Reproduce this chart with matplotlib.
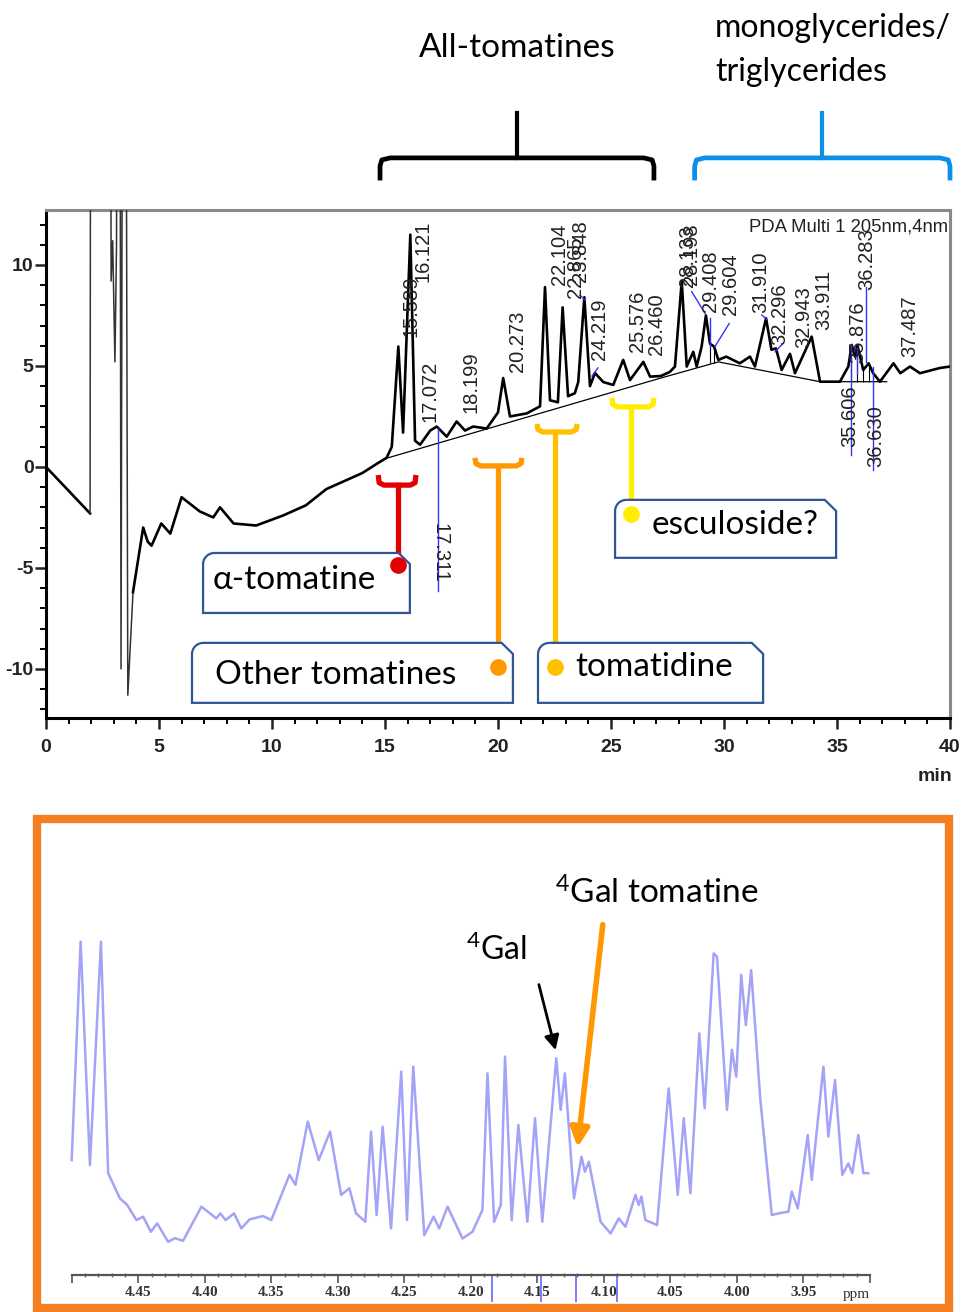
# HPLC-PDA chromatogram of tomato extract (top) and 1H-NMR detail of the 4Gal region (bottom).

import numpy as np
import matplotlib.pyplot as plt
from matplotlib.patches import Polygon, Rectangle

plt.rcParams['font.family'] = ['Liberation Sans', 'DejaVu Sans']
plt.rcParams['mathtext.default'] = 'regular'

# ---- chromatogram trace (min, mAU)
trace_t = [0, 1.95, 1.99, 2.85, 2.88, 2.95, 3.05, 3.12, 3.18, 3.25, 3.32, 3.42, 3.5, 3.62,
           3.85, 4.3, 4.5, 4.67, 5.1, 5.5, 6.0, 6.8, 7.4, 7.7, 8.3, 9.3, 10.5, 11.5, 12.4,
           13.0, 14.0, 14.7, 15.07, 15.3, 15.59, 15.8, 16.12, 16.33, 16.55, 17.0, 17.29,
           17.73, 18.17, 18.54, 18.9, 19.5, 20.0, 20.23, 20.53, 21.27, 21.86, 22.08, 22.3,
           22.65, 22.86, 23.1, 23.4, 23.55, 23.82, 24.07, 24.29, 24.66, 25.1, 25.54, 25.84,
           26.43, 26.73, 27.2, 27.6, 27.83, 28.13, 28.35, 28.64, 28.79, 29.01, 29.2, 29.38,
           29.56, 29.75, 30.1, 30.7, 31.15, 31.37, 31.86, 32.1, 32.3, 32.55, 32.92, 33.14,
           33.88, 34.25, 35.13, 35.5, 35.65, 35.8, 35.9, 36.16, 36.4, 36.6, 36.9, 37.5, 37.8,
           38.23, 38.67, 39.56, 40]
trace_s = [0, -2.3, 40, 40, 9.2, 11.2, 5.2, 11.0, 40, 40, -10.0, 40, 40, -11.3,
           -6.2, -3.0, -3.7, -3.9, -2.8, -3.3, -1.5, -2.2, -2.5, -2.0, -2.8, -2.9, -2.4, -1.9, -1.1,
           -0.8, -0.3, 0.2, 0.45, 1.0, 5.96, 1.7, 11.5, 1.3, 1.1, 1.8, 2.0,
           1.5, 2.25, 1.8, 2.0, 1.9, 2.7, 4.4, 2.5, 2.65, 3.0, 8.9, 3.3,
           3.2, 7.9, 3.5, 3.65, 4.2, 8.4, 4.0, 4.65, 4.2, 4.06, 5.3, 4.3,
           5.2, 4.47, 4.5, 4.7, 4.97, 9.2, 4.97, 5.7, 4.97, 5.96, 7.5, 6.1,
           5.96, 5.3, 5.46, 5.13, 5.46, 4.97, 7.36, 5.8, 5.87, 4.8, 5.6, 4.64,
           6.45, 4.22, 4.22, 4.97, 6.04, 5.46, 6.04, 4.8, 5.13, 4.64, 4.22, 5.13, 4.64,
           4.97, 4.64, 4.9, 4.97]

# integration baseline drawn under the peaks
base_t = [15.07, 27.2, 29.75, 34.25, 37.2]
base_s = [0.43, 4.4, 5.2, 4.22, 4.22]

# peak retention-time labels: text, x, y (bottom of text)
peak_text = ['15.589', '16.121', '17.072', '18.199', '20.273', '22.104', '22.865', '23.848',
             '24.219', '25.576', '26.460', '28.133', '28.198', '29.408', '29.604', '31.910',
             '32.296', '32.943', '33.911', '35.876', '36.283', '37.487', '35.606', '36.630']
peak_x = [16.15, 16.7, 17.0, 18.79, 20.86, 22.7, 23.44, 23.66,
          24.47, 26.16, 27.02, 28.4, 28.58, 29.41, 30.3, 31.62,
          32.48, 33.51, 34.39, 35.9, 36.31, 38.23, 35.58, 36.71]
peak_y = [6.45, 9.17, 2.24, 2.67, 4.72, 9.0, 8.37, 9.16,
          5.3, 5.71, 5.54, 8.9, 9.0, 7.69, 7.52, 7.61,
          6.04, 5.88, 6.78, 5.15, 8.76, 5.46, 0.99, 0.0]

# blue connector segments (x0, y0, x1, y1)
conn_x0 = [17.35, 28.57, 29.38, 30.23, 31.67, 32.55, 35.6, 35.87, 36.28, 36.6, 24.16, 23.63]
conn_y0 = [1.93, 8.68, 7.36, 7.1, 7.52, 6.04, 6.04, 5.9, 8.9, 4.97, 4.5, 8.5]
conn_x1 = [17.35, 29.16, 29.38, 29.6, 31.89, 32.26, 35.6, 35.87, 36.28, 36.6, 24.42, 23.85]
conn_y1 = [-6.14, 7.6, 5.94, 5.96, 7.31, 5.7, 0.59, 4.6, 5.2, -0.15, 4.9, 8.27]

# drop lines at split peaks
drop_x = [29.38, 29.56, 35.62, 35.9, 36.16, 36.4]
drop_lo = [5.15, 5.15, 4.22, 4.22, 4.22, 4.22]
drop_hi = [6.1, 5.96, 6.0, 6.0, 4.8, 5.1]

# compound groups: bracket range, stem end and labelled box
grp_name = ['\u03b1-tomatine', 'Other tomatines', 'tomatidine', 'esculoside?']
grp_color = ['#e30000', '#ff9800', '#ffc000', '#ffee00']
grp_x0 = [14.7, 18.98, 21.73, 25.04]
grp_x1 = [16.37, 21.06, 23.5, 26.9]
grp_top = [-0.4, 0.45, 2.13, 3.42]
grp_bar = [-0.9, 0.05, 1.73, 2.97]
grp_stem = [15.58, 20.0, 22.52, 25.9]
grp_ball = [-4.85, -9.9, -9.9, -2.33]
box_x0 = [6.95, 6.46, 21.77, 25.18]
box_x1 = [16.1, 20.66, 31.73, 34.96]
box_top = [-4.26, -8.71, -8.71, -1.63]
box_bot = [-7.23, -11.68, -11.68, -4.5]
box_tx = [7.39, 7.48, 23.4, 26.8]
box_ty = [-5.6, -10.3, -9.9, -2.87]

# ---- NMR spectrum (ppm, relative intensity)
nmr_ppm = [4.500, 4.4933, 4.4863, 4.478, 4.4726, 4.4638, 4.4583, 4.4513, 4.4463, 4.4405,
           4.4358, 4.4275, 4.4225, 4.4163, 4.4025, 4.3913, 4.3883, 4.3843, 4.378, 4.3725,
           4.3663, 4.3563, 4.35, 4.3363, 4.3318, 4.3226, 4.3143, 4.3058, 4.2975, 4.2913,
           4.2863, 4.2793, 4.275, 4.2708, 4.2663, 4.26, 4.2523, 4.248, 4.2433, 4.235,
           4.228, 4.2238, 4.2175, 4.2063, 4.1988, 4.1913, 4.1875, 4.1825, 4.1775, 4.1743,
           4.1693, 4.1643, 4.1575, 4.1518, 4.1463, 4.1358, 4.1325, 4.1293, 4.1225, 4.1168,
           4.1143, 4.1113, 4.1025, 4.095, 4.0888, 4.0838, 4.0763, 4.0738, 4.0718, 4.0688,
           4.06, 4.0513, 4.0445, 4.04, 4.035, 4.0283, 4.0243, 4.0175, 4.015, 4.0075,
           4.0038, 4.0005, 3.9968, 3.9933, 3.9893, 3.9825, 3.9738, 3.9688, 3.9613, 3.9588,
           3.9543, 3.9468, 3.9438, 3.935, 3.9313, 3.9263, 3.9208, 3.9163, 3.9133, 3.9088,
           3.905, 3.9013]
nmr_int = [34.3, 99.5, 32.8, 99.5, 30.4, 22.9, 20.9, 16.4, 17.4, 12.9,
           15.4, 9.9, 11.0, 10.2, 20.4, 16.9, 18.4, 16.4, 18.4, 13.9,
           16.6, 17.6, 16.4, 29.9, 26.9, 45.8, 34.3, 42.8, 23.9, 25.9,
           18.4, 15.9, 42.8, 17.9, 44.3, 13.9, 60.7, 16.4, 62.2, 11.9,
           17.4, 13.9, 20.4, 10.9, 12.9, 19.4, 60.2, 15.9, 20.9, 65.2,
           16.4, 44.8, 15.9, 46.8, 15.9, 64.7, 49.3, 60.2, 22.9, 35.3,
           30.8, 33.8, 15.9, 12.4, 16.9, 14.4, 23.9, 20.9, 23.4, 16.4,
           14.9, 55.7, 23.9, 46.8, 24.4, 72.1, 49.8, 96.0, 95.0, 49.3,
           67.2, 59.2, 89.6, 74.6, 91.0, 52.7, 17.9, 18.4, 18.9, 24.9,
           19.9, 41.8, 28.4, 62.2, 41.3, 58.2, 29.9, 33.3, 30.4, 41.8,
           30.4, 30.4]
nmr_ticks = [4.50, 4.45, 4.40, 4.35, 4.30, 4.25, 4.20, 4.15, 4.10, 4.05, 4.00, 3.95, 3.90]
nmr_integr = [4.184, 4.1475, 4.121, 4.09]

fig = plt.figure(figsize=(9.65, 13.12), dpi=100)

# ================= chromatogram =================
ax1 = fig.add_axes([46 / 965, 1 - 718 / 1312, 904 / 965, 508 / 1312])
ax1.set_xlim(0, 40)
ax1.set_ylim(-12.43, 12.72)
# solvent-front spikes are drawn thin, the rest of the trace thicker
ax1.plot(trace_t[:2], trace_s[:2], color='black', lw=1.9, zorder=3)
ax1.plot(trace_t[1:15], trace_s[1:15], color='#333333', lw=1.1, zorder=3)
ax1.plot(trace_t[14:], trace_s[14:], color='black', lw=1.9, zorder=3,
         solid_joinstyle='round')
ax1.plot(base_t, base_s, color='black', lw=0.9, zorder=3)
ax1.vlines(drop_x, drop_lo, drop_hi, color='black', lw=0.8, zorder=3)
for x0, y0, x1, y1 in zip(conn_x0, conn_y0, conn_x1, conn_y1):
    ax1.plot([x0, x1], [y0, y1], color='#3333ff', lw=1.0, zorder=4)
for txt, x, y in zip(peak_text, peak_x, peak_y):
    ax1.text(x, y, txt, rotation=90, ha='center', va='bottom', fontsize=14.5,
             color='#222222', zorder=5)
ax1.text(17.43, -4.26, '17.311', rotation=270, ha='center', va='center', fontsize=14.5,
         color='#222222', zorder=5)
ax1.text(39.9, 11.9, 'PDA Multi 1 205nm,4nm', ha='right', va='center', fontsize=13.3,
         color='#222222', zorder=5)

ax1.set_xticks(range(0, 41, 5))
ax1.set_xticklabels([str(v) for v in range(0, 41, 5)])
ax1.set_xticks(range(0, 41), minor=True)
ax1.set_yticks([-10, -5, 0, 5, 10])
ax1.set_yticklabels(['-10', '-5', '0', '5', '10'])
ax1.set_yticks(range(-12, 13), minor=True)
ax1.tick_params(axis='both', which='major', direction='out', length=8, width=1.8,
                labelsize=14, colors='#222222')
ax1.tick_params(axis='both', which='minor', direction='out', length=4.5, width=1.4)
ax1.tick_params(axis='x', pad=7)
ax1.tick_params(axis='y', pad=1)
for lab in ax1.get_xticklabels() + ax1.get_yticklabels():
    lab.set_fontweight('bold')
for side in ['left', 'bottom']:
    ax1.spines[side].set_linewidth(2.2)
for side in ['top', 'right']:
    ax1.spines[side].set_color('#8a8a8a')
    ax1.spines[side].set_linewidth(2.2)
ax1.text(39.35, -0.116, 'min', transform=ax1.get_xaxis_transform(), ha='center',
         va='center', fontsize=14, fontweight='bold', color='#222222')

# coloured group brackets with stems and balls
for i in range(len(grp_name)):
    x0, x1, yt, yb = grp_x0[i], grp_x1[i], grp_top[i], grp_bar[i]
    ax1.plot([x0, x0 + 0.04, x0 + 0.25, x1 - 0.25, x1 - 0.04, x1],
             [yt, yb + 0.12, yb, yb, yb + 0.12, yt],
             color=grp_color[i], lw=3.8, solid_capstyle='butt', zorder=6)
    ax1.plot([grp_stem[i], grp_stem[i]], [yb, grp_ball[i]], color=grp_color[i], lw=3.8, zorder=6)

# labelled boxes: rounded top-left corner, snipped top-right corner
rx, ry = 0.5, 0.55
ang = np.linspace(np.pi, np.pi / 2, 8)
for i in range(len(grp_name)):
    x0, x1, yt, yb = box_x0[i], box_x1[i], box_top[i], box_bot[i]
    arc = [(x0 + rx + rx * np.cos(a), yt - ry + ry * np.sin(a)) for a in ang]
    pts = [(x0, yb)] + arc + [(x1 - rx, yt), (x1, yt - ry), (x1, yb)]
    ax1.add_patch(Polygon(pts, closed=True, facecolor='white', edgecolor='#2f5597',
                          lw=1.6, zorder=7))
    ax1.text(box_tx[i], box_ty[i], grp_name[i], ha='left', va='center', fontsize=24,
             family=['Lato', 'DejaVu Sans'], zorder=8)
    ax1.plot(grp_stem[i], grp_ball[i], 'o', color=grp_color[i], ms=11, zorder=9)

# braces above the chromatogram
def brace(x0, x1, y_bar, y_end, y_tip, color):
    xc = (x0 + x1) / 2
    xs = [x0, x0, x0 + 0.08, x0 + 0.45, x1 - 0.45, x1 - 0.08, x1, x1]
    ys = [y_end, y_bar - 0.4, y_bar - 0.1, y_bar, y_bar, y_bar - 0.1, y_bar - 0.4, y_end]
    ax1.plot(xs, ys, color=color, lw=3.4, clip_on=False, solid_joinstyle='round')
    ax1.plot([xc, xc], [y_bar, y_tip], color=color, lw=3.0, clip_on=False)

brace(14.78, 26.9, 15.3, 14.3, 17.5, 'black')
brace(28.7, 40.0, 15.3, 14.3, 17.5, '#0a90e6')
ax1.text(20.84, 20.74, 'All-tomatines', ha='center', va='center', fontsize=24,
         family=['Lato', 'DejaVu Sans'], clip_on=False)
ax1.text(29.6, 21.73, 'monoglycerides/', ha='left', va='center', fontsize=23,
         family=['Lato', 'DejaVu Sans'], clip_on=False)
ax1.text(29.6, 19.55, 'triglycerides', ha='left', va='center', fontsize=23,
         family=['Lato', 'DejaVu Sans'], clip_on=False)

# ================= NMR panel =================
fig.add_artist(Rectangle((37 / 965, 1 - 1308 / 1312), 912 / 965, 489 / 1312,
                         transform=fig.transFigure, fill=False, edgecolor='#f47f20', lw=6))

ax2 = fig.add_axes([71.7 / 965, 1 - 1275 / 1312, 798.3 / 965, 335 / 1312])
ax2.set_xlim(4.50, 3.90)
ax2.set_ylim(0, 100)
ax2.patch.set_alpha(0)
ax2.plot(nmr_ppm, nmr_int, color='#a3a3f7', lw=1.8, clip_on=False, solid_joinstyle='round')
for side in ['left', 'right', 'top']:
    ax2.spines[side].set_visible(False)
ax2.spines['bottom'].set_color('#555555')
ax2.spines['bottom'].set_linewidth(1.6)
ax2.set_yticks([])
ax2.set_xticks(nmr_ticks)
ax2.set_xticklabels([''] + ['%.2f' % v for v in nmr_ticks[1:-1]] + [''])
ax2.set_xticks(np.arange(3.90, 4.501, 0.01), minor=True)
ax2.tick_params(axis='x', which='major', direction='out', length=6, width=1.2,
                colors='#555555', labelcolor='#333333', labelsize=11, pad=2)
ax2.tick_params(axis='x', which='minor', direction='inout', length=3, width=1,
                colors='#666666')
for lab in ax2.get_xticklabels():
    lab.set_family(['Liberation Serif', 'DejaVu Serif'])
    lab.set_fontweight('bold')
ax2.text(3.9105, -4.0, 'ppm', ha='center', va='top', fontsize=11, color='#333333',
         family=['Liberation Serif', 'DejaVu Serif'])
ax2.vlines(nmr_integr, -8, 0, color='#6666ff', lw=1.2, clip_on=False)

ax2.annotate('', xy=(4.1358, 66.3), xytext=(4.1494, 87.5),
             arrowprops=dict(arrowstyle='-|>', color='black', lw=2, mutation_scale=22),
             annotation_clip=False)
ax2.annotate('', xy=(4.120, 37.3), xytext=(4.1006, 105.4),
             arrowprops=dict(arrowstyle='-|>', color='#ff9800', lw=4, mutation_scale=28),
             annotation_clip=False)
ax2.text(4.2035, 97, '$^{4}$Gal', ha='left', va='center', fontsize=23,
         family=['Lato', 'DejaVu Sans'], clip_on=False)
ax2.text(4.1365, 114, '$^{4}$Gal tomatine', ha='left', va='center', fontsize=24,
         family=['Lato', 'DejaVu Sans'], clip_on=False)

fig.savefig('out.png', dpi=100)
